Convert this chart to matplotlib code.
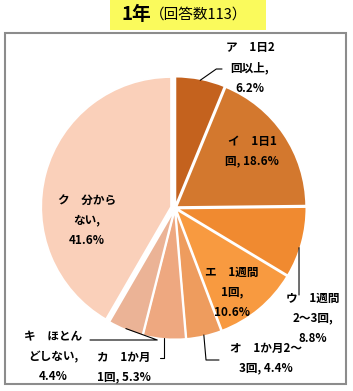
import matplotlib.pyplot as plt
import numpy as np

plt.rcParams['font.family'] = ['Noto Sans CJK JP', 'DejaVu Sans']

# data
categories = ['ア　1日2\n回以上,\n6.2%', 'イ　1日1\n回, 18.6%', 'ウ　1週間\n2～3回,\n8.8%',
              'エ　1週間\n1回,\n10.6%', 'オ　1か月2～\n3回, 4.4%', 'カ　1か月\n1回, 5.3%',
              'キ　ほとん\nどしない,\n4.4%', 'ク　分から\nない,\n41.6%']
values = [6.2, 18.6, 8.8, 10.6, 4.4, 5.3, 4.4, 41.6]
colors = ['#C4621E', '#D3782E', '#F08A30', '#F89A40', '#EE9C5E', '#EEA880', '#EBB396', '#FAD0BA']

W, H = 353, 391
fig = plt.figure(figsize=(W / 100, H / 100), dpi=100)
ax = fig.add_axes([0, 0, 1, 1])

cx, cy, R = 175, H - 208, 130

# explode is in pixels here (axes units = pixels)
wedges, _ = ax.pie(values, colors=colors, startangle=90, counterclock=False,
                   center=(cx, cy), radius=R, explode=[1.5] * 7 + [4],
                   wedgeprops=dict(edgecolor='white', linewidth=1.4))
ax.set_xlim(0, W)
ax.set_ylim(0, H)
ax.set_aspect('equal')
ax.axis('off')

# frame
ax.add_patch(plt.Rectangle((5, H - 384), 341, 351, fill=False, edgecolor='#8c8c8c', lw=1.5))

# title box
ax.add_patch(plt.Rectangle((110, H - 30), 156, 30, facecolor='#FAFA5C', edgecolor='none'))
ax.text(151, H - 15, '1年', fontsize=13.5, fontweight='bold', ha='right', va='center')
ax.text(150, H - 15, '（回答数113）', fontsize=10.5, ha='left', va='center')

fs = 8.4
lab = dict(fontsize=fs, fontweight='bold', ha='center', va='center', linespacing=1.7)


def arc_point(w, f=0.5, frac=1.0):
    a = np.deg2rad(w.theta1 + f * (w.theta2 - w.theta1))
    x0, y0 = w.center
    return x0 + frac * w.r * np.cos(a), y0 + frac * w.r * np.sin(a)


# inside labels
for i, pos in [(1, (252, H - 151)), (3, (232, H - 292)), (7, (87, H - 220))]:
    ax.text(pos[0], pos[1], categories[i], **lab)

# outside labels with leader lines
outside = [
    (0, (250, H - 68), "angle,angleA=0,angleB=35", (222, H - 69), 0.5),
    (2, (313, H - 318), "arc3", None, 0.42),
    (4, (266, H - 358), "angle,angleA=0,angleB=95", (219, H - 360), 0.5),
    (5, (124, H - 367), "angle,angleA=0,angleB=90", (160, H - 358), 0.5),
    (6, (53, H - 357), "angle,angleA=0,angleB=-20", (90, H - 340), 0.5),
]
for i, pos, cs, tip, f in outside:
    ax.text(pos[0], pos[1], categories[i], **lab)
    xy = arc_point(wedges[i], f, 0.99)
    if tip is None:
        tip = (xy[0], H - 295)
    ax.annotate('', xy=xy, xytext=tip,
                arrowprops=dict(arrowstyle='-', color='black', lw=0.8,
                                connectionstyle=cs, shrinkA=0, shrinkB=0))

fig.savefig('out.png', dpi=100)
